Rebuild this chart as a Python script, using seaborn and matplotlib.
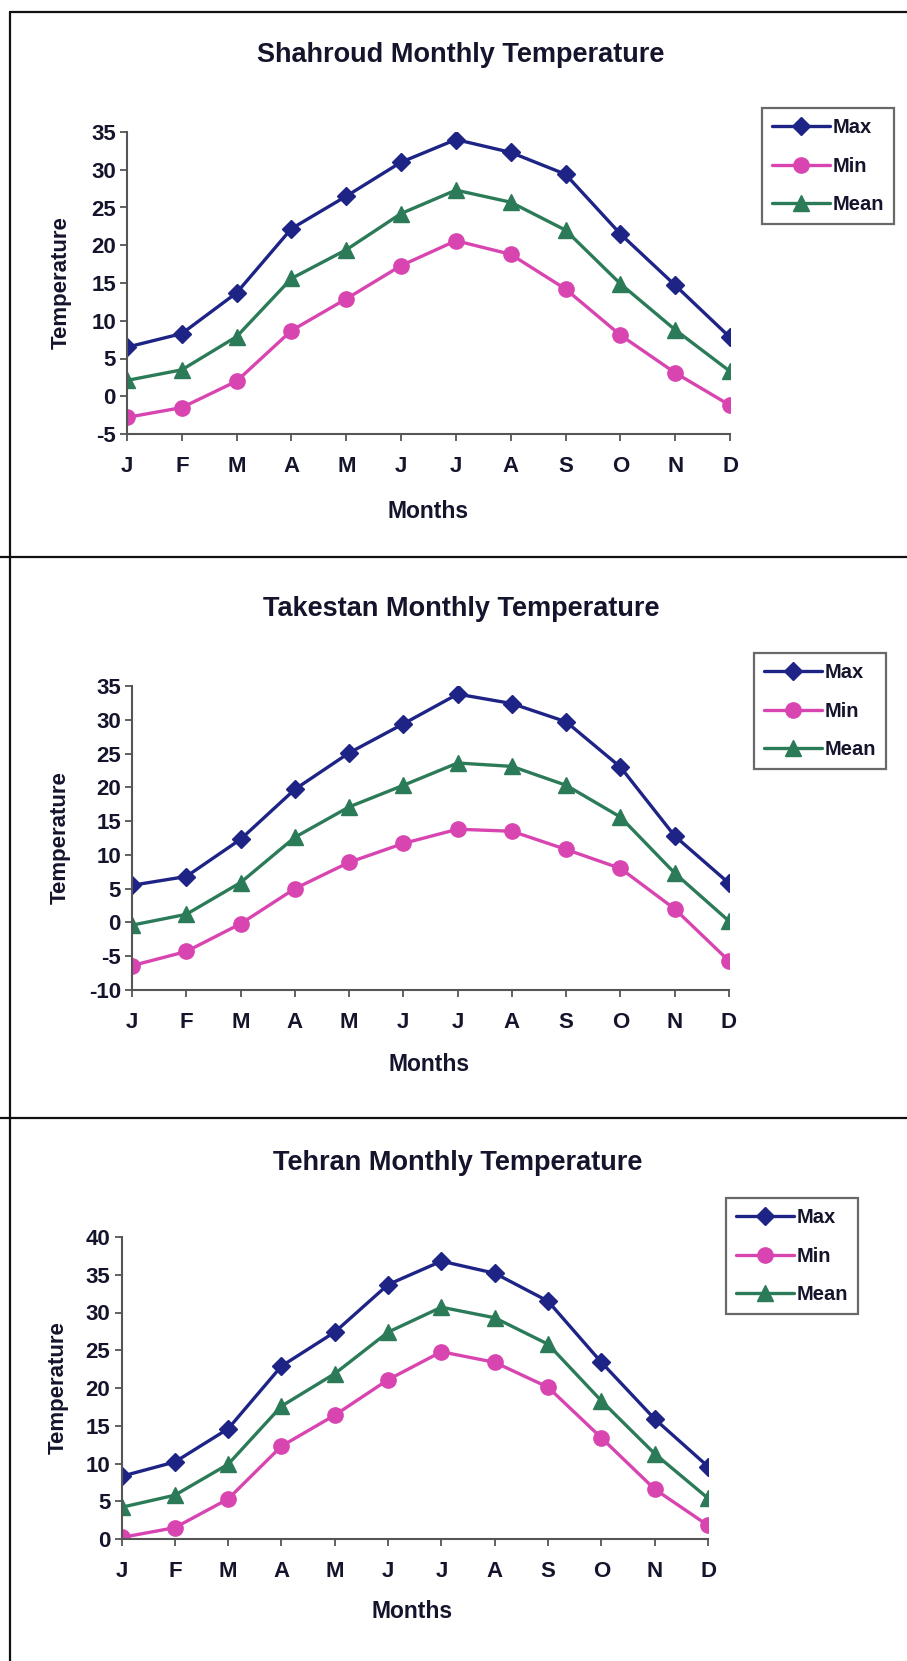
import numpy as np
import pandas as pd
import matplotlib
matplotlib.use("Agg")
import matplotlib.pyplot as plt
from matplotlib.lines import Line2D
import seaborn as sns

# ---------------- data ----------------
months = ["J", "F", "M", "A", "M", "J", "J", "A", "S", "O", "N", "D"]
series_names = ["Max", "Min", "Mean"]

shahroud_max = [6.5, 8.3, 13.7, 22.2, 26.5, 31.0, 34.0, 32.3, 29.4, 21.5, 14.7, 7.8]
shahroud_min = [-2.8, -1.5, 2.0, 8.7, 12.9, 17.3, 20.6, 18.8, 14.2, 8.1, 3.1, -1.2]
shahroud_mean = [2.1, 3.5, 7.9, 15.6, 19.4, 24.2, 27.3, 25.7, 22.0, 14.9, 8.8, 3.3]

takestan_max = [5.5, 6.8, 12.3, 19.7, 25.1, 29.4, 33.8, 32.4, 29.7, 23.0, 12.8, 5.8]
takestan_min = [-6.4, -4.3, -0.2, 5.0, 8.9, 11.7, 13.8, 13.5, 10.8, 8.0, 2.0, -5.7]
takestan_mean = [-0.4, 1.2, 5.9, 12.6, 17.1, 20.3, 23.6, 23.1, 20.3, 15.6, 7.3, 0.2]

tehran_max = [8.3, 10.2, 14.6, 22.9, 27.4, 33.7, 36.8, 35.2, 31.5, 23.4, 15.9, 9.6]
tehran_min = [0.2, 1.5, 5.3, 12.3, 16.4, 21.1, 24.8, 23.4, 20.1, 13.4, 6.6, 1.8]
tehran_mean = [4.2, 5.8, 9.9, 17.6, 21.9, 27.4, 30.7, 29.3, 25.8, 18.3, 11.3, 5.4]

titles = ["Shahroud Monthly Temperature", "Takestan Monthly Temperature",
          "Tehran Monthly Temperature"]
y_limits = [(-5, 35), (-10, 35), (0, 40)]

# ---------------- style ----------------
sns.set_theme(style="white")
plt.rcParams["font.family"] = ["Liberation Sans", "DejaVu Sans"]
plt.rcParams["font.weight"] = "bold"
plt.rcParams["axes.unicode_minus"] = False

colors = {"Max": "#1E2486", "Min": "#D845B0", "Mean": "#2C7B58"}
markers = {"Max": "D", "Min": "o", "Mean": "^"}
msizes = {"Max": 9, "Min": 11, "Mean": 11}
text_color = "#14142C"

W, H = 907, 1661
fig = plt.figure(figsize=(W / 100, H / 100), dpi=100)
fig.patch.set_facecolor("white")


def fx(px):
    return px / W


def fy(py):
    return 1 - py / H


# panel layout in pixels
panels = [
    dict(ax=(127, 730, 132, 434), title=(461, 55), xlab=(428, 511), ylab=61, leg=(762, 108)),
    dict(ax=(132, 729, 686, 990), title=(461, 609), xlab=(429, 1064), ylab=60, leg=(754, 653)),
    dict(ax=(121.5, 708, 1237, 1539), title=(458, 1163), xlab=(412, 1612), ylab=58, leg=(726, 1198)),
]

city_data = [
    (shahroud_max, shahroud_min, shahroud_mean),
    (takestan_max, takestan_min, takestan_mean),
    (tehran_max, tehran_min, tehran_mean),
]

for i, p in enumerate(panels):
    l, r, t, b = p["ax"]
    ax = fig.add_axes([fx(l), fy(b), fx(r) - fx(l), fy(t) - fy(b)])
    ax.set_facecolor("none")
    mx, mn, me = city_data[i]
    df = pd.DataFrame({
        "x": np.tile(np.arange(len(months)), 3),
        "temp": mx + mn + me,
        "series": np.repeat(series_names, len(months)),
    })
    for name in series_names:
        sub = df[df["series"] == name]
        sns.lineplot(data=sub, x="x", y="temp", ax=ax, color=colors[name],
                     marker=markers[name], markersize=msizes[name],
                     markeredgecolor=colors[name], markeredgewidth=1.0,
                     linewidth=2.4, label=name, legend=False)
    ax.set_xlim(0, len(months) - 1)
    ax.set_ylim(*y_limits[i])
    ax.set_yticks(np.arange(y_limits[i][0], y_limits[i][1] + 1, 5))
    ax.set_xticks(np.arange(len(months)))
    ax.set_xticklabels(months)
    for s in ["top", "right"]:
        ax.spines[s].set_visible(False)
    for s in ["left", "bottom"]:
        ax.spines[s].set_color("#555555")
        ax.spines[s].set_linewidth(1.5)
    ax.tick_params(axis="both", which="major", direction="out", length=5, width=1.3,
                   color="#555555", labelsize=16, labelcolor=text_color)
    ax.tick_params(axis="x", pad=11)
    ax.tick_params(axis="y", pad=3, left=True)
    ax.tick_params(axis="x", bottom=True)
    for lab in ax.get_xticklabels() + ax.get_yticklabels():
        lab.set_fontweight("bold")

    ax.set_title(titles[i], fontsize=19.5, fontweight="bold", color=text_color, pad=0,
                 x=(p["title"][0] - l) / (r - l), y=(b - p["title"][1]) / (b - t), va="center")
    ax.set_xlabel("Months", fontsize=16.5, fontweight="bold", color=text_color)
    ax.xaxis.set_label_coords((p["xlab"][0] - l) / (r - l), (b - p["xlab"][1]) / (b - t))
    ax.xaxis.label.set_va("center")
    ax.set_ylabel("Temperature", fontsize=16, fontweight="bold", color=text_color)
    ax.yaxis.set_label_coords((p["ylab"] - l) / (r - l), 0.5)
    ax.yaxis.label.set_va("center")

    handles = [Line2D([], [], color=colors[n], marker=markers[n], markersize=msizes[n],
                      markeredgecolor=colors[n], linewidth=2.4) for n in series_names]
    leg = ax.legend(handles, series_names, loc="upper left",
                    bbox_to_anchor=(fx(p["leg"][0]), fy(p["leg"][1])),
                    bbox_transform=fig.transFigure, frameon=True, fancybox=False,
                    fontsize=14.5, handlelength=2.9, handletextpad=0.1,
                    labelspacing=0.97, borderpad=0.5, borderaxespad=0)
    leg.get_frame().set_edgecolor("#444444")
    leg.get_frame().set_linewidth(1.6)
    for txt in leg.get_texts():
        txt.set_fontweight("bold")
        txt.set_color(text_color)

# page frame lines
frame_kw = dict(color="#111111", linewidth=1.6, transform=fig.transFigure)
fig.add_artist(Line2D([fx(10), fx(10)], [fy(12), 0], **frame_kw))
for yy in (12, 557, 1118):
    fig.add_artist(Line2D([0 if yy > 12 else fx(10), 1], [fy(yy), fy(yy)], **frame_kw))

fig.savefig("out.png", dpi=100, facecolor="white")
